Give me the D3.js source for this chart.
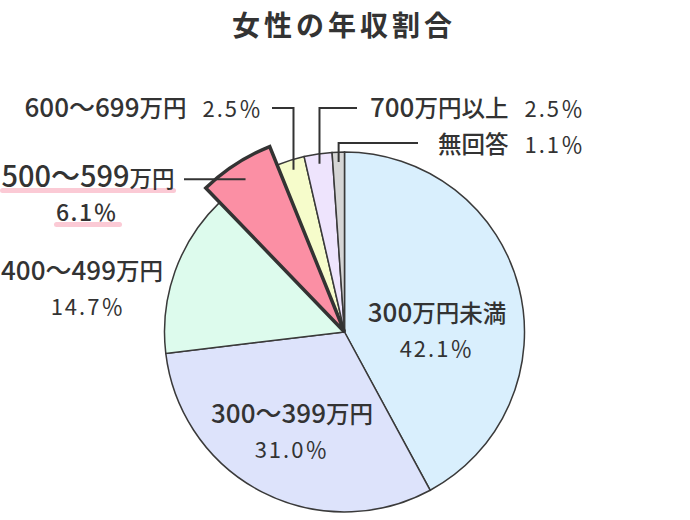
<!doctype html>
<html lang="ja">
<head>
<meta charset="utf-8">
<title>女性の年収割合</title>
<script src="https://cdnjs.cloudflare.com/ajax/libs/d3/7.8.5/d3.min.js"></script>
<style>
  body { margin: 0; background: #fff; }
  svg text { font-family: "Noto Sans CJK JP", "Noto Sans", sans-serif; fill: #333; }
</style>
</head>
<body>
<svg id="chart" width="690" height="520"></svg>
<script>
// data
const categories = ["300万円未満", "300～399万円", "400～499万円", "500～599万円", "600～699万円", "700万円以上", "無回答"];
const values = [42.1, 31.0, 14.7, 6.1, 2.5, 2.5, 1.1];
const colors = ["#d9effd", "#dde3fb", "#ddfbed", "#fb8fa4", "#f6fccb", "#eee4fd", "#d5d5d5"];
const highlight = "500～599万円";

const svg = d3.select("#chart");
const cx = 344.5, cy = 332, r = 180;

svg.append("text")
    .attr("x", 344).attr("y", 36)
    .attr("text-anchor", "middle")
    .style("font-size", "28px").style("font-weight", 700)
    .style("letter-spacing", "4px")
    .text("女性の年収割合");

const data = categories.map((c, i) => ({ name: c, value: values[i], color: colors[i] }));
const pie = d3.pie().value(d => d.value).sort(null);
const arcs = pie(data);
const arc = d3.arc().innerRadius(0).outerRadius(d => d.data.name === highlight ? r + 20 : r);

const g = svg.append("g").attr("transform", `translate(${cx},${cy})`);
g.selectAll("path")
    .data(arcs.filter(d => d.data.name !== highlight))
    .join("path")
    .attr("d", arc)
    .attr("fill", d => d.data.color)
    .attr("stroke", "#3a3a3a")
    .attr("stroke-width", 1.5);
g.selectAll("path.hl")
    .data(arcs.filter(d => d.data.name === highlight))
    .join("path")
    .attr("class", "hl")
    .attr("d", arc)
    .attr("fill", d => d.data.color)
    .attr("stroke", "#333")
    .attr("stroke-width", 3.5)
    .attr("stroke-linejoin", "miter");

const pct = v => v.toFixed(1) + "％";

// point on a slice's middle angle, in page coords
function onSlice(d, rad) {
  const a = (d.startAngle + d.endAngle) / 2;
  return [cx + Math.sin(a) * rad, cy - Math.cos(a) * rad];
}

// digits and dash a bit larger than the kanji
function nameText(sel, str, numSize, jpSize) {
  str.match(/[0-9～]+|[^0-9～]+/g).forEach(part => {
    sel.append("tspan")
      .style("font-size", /[0-9～]/.test(part) ? numSize + "px" : jpSize + "px")
      .text(part);
  });
  return sel;
}

const byName = {};
arcs.forEach(d => byName[d.data.name] = d);

// two big slices: labels inside
[["300万円未満", 437, 322, 357], ["300～399万円", 292, 423, 458]].forEach(([n, x, y1, y2]) => {
  nameText(svg.append("text").attr("x", x).attr("y", y1).attr("text-anchor", "middle")
    .style("font-weight", 500), n, 26, 23.5);
  svg.append("text").attr("x", x).attr("y", y2).attr("text-anchor", "middle")
    .style("font-size", "22px").style("letter-spacing", "2px")
    .text(pct(byName[n].data.value));
});

// 400～499
{
  const n = "400～499万円";
  nameText(svg.append("text").attr("x", 82).attr("y", 280).attr("text-anchor", "middle")
    .style("font-weight", 500), n, 26, 23.5);
  svg.append("text").attr("x", 88).attr("y", 315).attr("text-anchor", "middle")
    .style("font-size", "22px").style("letter-spacing", "2px")
    .text(pct(byName[n].data.value));
}

// highlighted slice
{
  const n = highlight;
  svg.append("rect").attr("x", 0).attr("y", 188).attr("width", 176).attr("height", 5)
    .attr("rx", 2.5).attr("fill", "#fbcad5");
  svg.append("rect").attr("x", 54).attr("y", 222).attr("width", 68).attr("height", 5)
    .attr("rx", 2.5).attr("fill", "#fbcad5");
  nameText(svg.append("text").attr("x", 88).attr("y", 187).attr("text-anchor", "middle")
    .style("font-weight", 500), n, 29, 22.5);
  svg.append("text").attr("x", 87).attr("y", 221).attr("text-anchor", "middle")
    .style("font-size", "23px").style("font-weight", 500).style("letter-spacing", "1.5px")
    .text(pct(byName[n].data.value));
  const p = onSlice(byName[n], 182);
  svg.append("path").attr("d", `M184,${p[1]}H${p[0]}`)
    .attr("stroke", "#333").attr("stroke-width", 2).attr("fill", "none");
}

// small slices with elbow leaders
const small = [
  { n: "600～699万円", ly: 108, lx: 272, tx: 263, ty: 117 },
  { n: "700万円以上", ly: 108, lx: 357, tx: 585, ty: 117 },
  { n: "無回答", ly: 143, lx: 418, tx: 585, ty: 153 }
];
small.forEach(s => {
  const d = byName[s.n];
  const p = onSlice(d, 170);
  svg.append("path").attr("d", `M${s.lx},${s.ly}H${p[0]}V${p[1]}`)
    .attr("stroke", "#333").attr("stroke-width", 2).attr("fill", "none");
  const t = svg.append("text").attr("x", s.tx).attr("y", s.ty).attr("text-anchor", "end")
    .style("font-weight", 500);
  nameText(t, s.n, 26, 23.5);
  t.append("tspan").style("font-size", "22px").style("font-weight", 400)
    .style("letter-spacing", "2px").attr("dx", 16).text(pct(d.data.value));
});
</script>
</body>
</html>
